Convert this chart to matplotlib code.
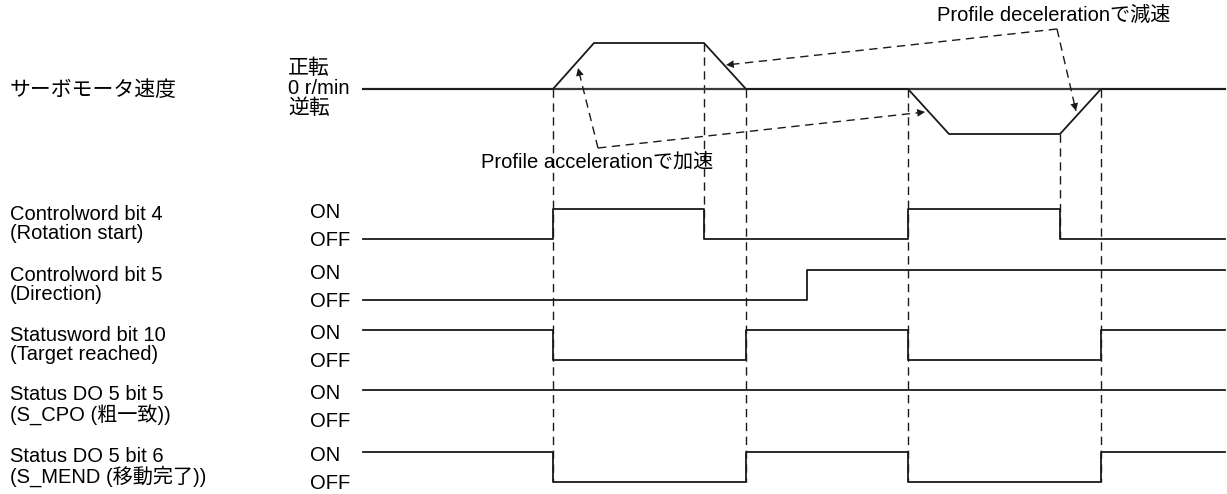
import matplotlib
matplotlib.use("Agg")
import matplotlib.pyplot as plt

# Figure geometry (pixels, y grows downward)
W, H = 1227, 494
T0, T1 = 363, 1225          # time axis start / end

# Servo motor speed profile: edge times and normalised speed (+1 fwd, -1 rev)
speed_t = [T0, 553, 594, 704, 746, 908, 949, 1060, 1101, T1]
speed_v = [0, 0, 1, 1, 0, 0, -1, -1, 0, 0]
SPEED_ZERO, SPEED_FWD, SPEED_REV = 89, 43, 134

# Digital signals: (left label, edge times, state after each edge)
signal_names = ["Controlword bit 4\n(Rotation start)",
                "Controlword bit 5\n(Direction)",
                "Statusword bit 10\n(Target reached)",
                "Status DO 5 bit 5\n(S_CPO (粗一致))",
                "Status DO 5 bit 6\n(S_MEND (移動完了))"]
cw4_t = [T0, 553, 704, 908, 1060]
cw4_s = [0, 1, 0, 1, 0]
cw5_t = [T0, 807]
cw5_s = [0, 1]
sw10_t = [T0, 553, 746, 908, 1101]
sw10_s = [1, 0, 1, 0, 1]
cpo_t = [T0]
cpo_s = [1]
mend_t = [T0, 553, 746, 908, 1101]
mend_s = [1, 0, 1, 0, 1]
signals = [(cw4_t, cw4_s), (cw5_t, cw5_s), (sw10_t, sw10_s),
           (cpo_t, cpo_s), (mend_t, mend_s)]
row_on = [209, 270, 330, 390, 452]
ROW_H = 30

# Dashed timing guides: (time, top, bottom)
guides = [(553, SPEED_ZERO, 482), (704, SPEED_FWD, 239), (746, SPEED_ZERO, 482),
          (908, SPEED_ZERO, 482), (1060, SPEED_REV, 239), (1101, SPEED_ZERO, 482)]

# Annotation callouts: text, corner, arrow tips
acc_text = "Profile accelerationで加速"
dec_text = "Profile decelerationで減速"
acc_corner, acc_tips = (598, 148), [(578, 68), (925, 112)]
dec_corner, dec_tips = (1057, 29), [(726, 65), (1076, 111)]

FONT = ["Liberation Sans", "Noto Sans CJK JP"]
FS = 14.5
FS_JP = 15
LC = "#1a1a1a"

fig = plt.figure(figsize=(W / 100, H / 100), dpi=100)
ax = fig.add_axes([0, 0, 1, 1])
ax.set_xlim(0, W)
ax.set_ylim(H, 0)
ax.axis("off")

# dashed guides first so the solid edges sit on top
for x, y0, y1 in guides:
    ax.plot([x, x], [y0, y1], color=LC, lw=1.0, ls=(0, (6, 4)))

# speed row
ax.plot([T0, T1], [SPEED_ZERO, SPEED_ZERO], color="#3a3a3a", lw=1.6)
speed_y = [SPEED_ZERO - v * (SPEED_ZERO - SPEED_FWD) if v >= 0
           else SPEED_ZERO + (-v) * (SPEED_REV - SPEED_ZERO) for v in speed_v]
ax.plot(speed_t, speed_y, color=LC, lw=1.3)
ax.text(10, 90, "サーボモータ速度", fontsize=FS_JP, family=FONT, va="center")
ax.text(288, 68, "正転", fontsize=FS_JP, family=FONT, va="center")
ax.text(288, 88, "0 r/min", fontsize=FS, family=FONT, va="center")
ax.text(288, 108, "逆転", fontsize=FS_JP, family=FONT, va="center")

# digital signal rows
for name, (ts, ss), on_y in zip(signal_names, signals, row_on):
    off_y = on_y + ROW_H
    xs = list(ts) + [T1]
    ys = [on_y if s else off_y for s in ss]
    ys = ys + [ys[-1]]
    ax.step(xs, ys, where="post", color=LC, lw=1.3)
    ax.text(10, on_y + 15, name, fontsize=FS, family=FONT, va="center",
            linespacing=1.0)
    ax.text(310, on_y + 3, "ON", fontsize=FS, family=FONT, va="center")
    ax.text(310, off_y + 1, "OFF", fontsize=FS, family=FONT, va="center")

# callouts
for corner, tips in [(acc_corner, acc_tips), (dec_corner, dec_tips)]:
    for tip in tips:
        ax.plot([corner[0], tip[0]], [corner[1], tip[1]], color=LC, lw=1.0,
                ls=(0, (6, 4)))
        dx, dy = tip[0] - corner[0], tip[1] - corner[1]
        n = (dx * dx + dy * dy) ** 0.5
        back = (tip[0] - dx / n * 10, tip[1] - dy / n * 10)
        ax.annotate("", xy=tip, xytext=back,
                    arrowprops=dict(arrowstyle="-|>", mutation_scale=14,
                                    lw=0, fc=LC, ec=LC,
                                    shrinkA=0, shrinkB=0))
ax.text(597, 162, acc_text, fontsize=FS, family=FONT, ha="center", va="center")
ax.text(1054, 15, dec_text, fontsize=FS, family=FONT, ha="center", va="center")

fig.savefig("out.png", dpi=100)
